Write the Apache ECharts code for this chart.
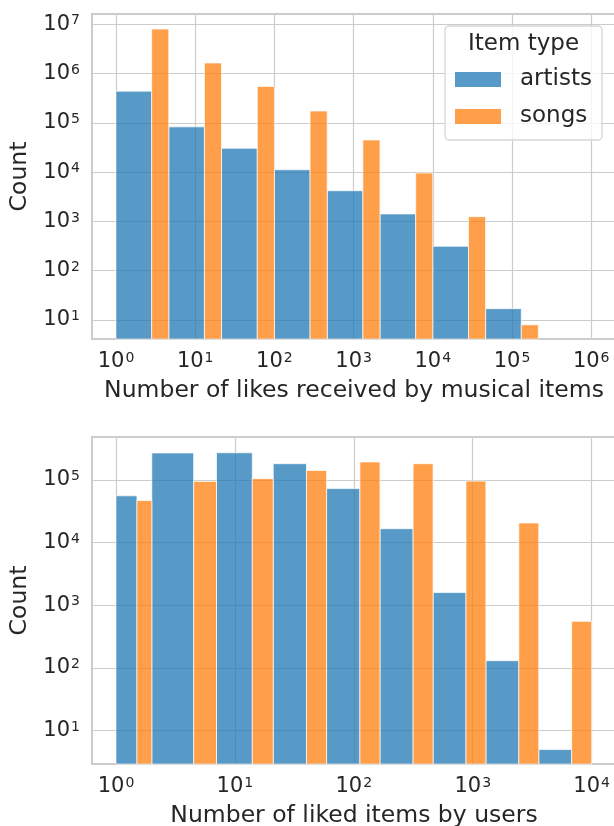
<!DOCTYPE html>
<html><head><meta charset="utf-8">
<script src="https://cdn.jsdelivr.net/npm/echarts@6/dist/echarts.min.js"></script>
<style>html,body{margin:0;padding:0;background:#fff;} #c{width:614px;height:826px;}</style>
</head><body><div id="c"></div>
<script>
// ---- data ----
const likesBinEdges = [1, 4.64, 21.5, 100, 464, 2154, 10000, 46416, 215443];
const likesArtists  = [440000, 83000, 30500, 11200, 4200, 1420, 314, 17];
const likesSongs    = [8000000, 1640000, 550000, 174000, 45000, 9600, 1250, 8];

const usersBinEdges = [1, 2, 7, 21, 59, 166, 464, 1291, 3593, 10000];
const usersArtists  = [56000, 270000, 272000, 182000, 73000, 16700, 1600, 131, 5];
const usersSongs    = [47000, 95000, 105000, 142000, 194000, 182000, 96000, 20600, 556];

const topXTicks    = [1, 10, 100, 1000, 10000, 100000, 1000000];
const topYTicks    = [10, 100, 1000, 10000, 100000, 1000000, 10000000];
const bottomXTicks = [1, 10, 100, 1000, 10000];
const bottomYTicks = [10, 100, 1000, 10000, 100000];

const xNameTop = 'Number of likes received by musical items';
const xNameBottom = 'Number of liked items by users';
const yName = 'Count';
const legendTitle = 'Item type';
const seriesNames = ['artists', 'songs'];

// ---- styling ----
const FONT = 'DejaVu Sans';
const TXT = '#262626';
const BLUE = 'rgba(31,119,180,0.75)';
const ORANGE = 'rgba(255,127,14,0.75)';
const GRIDC = '#cccccc';

function dodge(edges, a, s) {
  const A = [], S = [];
  for (let i = 0; i < a.length; i++) {
    const lo = edges[i], hi = edges[i + 1], mid = (lo + hi) / 2;
    A.push([lo, mid, a[i]]);
    S.push([mid, hi, s[i]]);
  }
  return { A, S };
}
const likesBars = dodge(likesBinEdges, likesArtists, likesSongs);
const usersBars = dodge(usersBinEdges, usersArtists, usersSongs);

function renderBar(params, api) {
  const x0 = api.value(0), x1 = api.value(1), v = api.value(2);
  const p0 = api.coord([x0, v]);
  const p1 = api.coord([x1, v]);
  const cs = params.coordSys;
  const bottom = cs.y + cs.height;
  return {
    type: 'rect',
    shape: { x: p0[0], y: p0[1], width: p1[0] - p0[0], height: bottom - p0[1] },
    style: { fill: api.visual('color'), stroke: 'rgba(255,255,255,0.7)', lineWidth: 1 }
  };
}

const supFmt = v => '{b|10}{s|' + Math.round(Math.log10(v)) + '}';
const rich = {
  b: { fontSize: 21, fontFamily: FONT, color: TXT },
  s: { fontSize: 14, fontFamily: FONT, color: TXT, verticalAlign: 'top', padding: [0, 0, 6, 1] }
};

function xAx(grid, ticks, min, max, name, gap) {
  return {
    type: 'log', logBase: 10, gridIndex: grid, min: min, max: max,
    axisLine: { show: true, onZero: false, lineStyle: { color: GRIDC, width: 2 } },
    axisTick: { show: false, customValues: ticks },
    axisLabel: { customValues: ticks, formatter: supFmt, rich: rich, margin: 12 },
    splitLine: { show: true, lineStyle: { color: GRIDC, width: 1.2 } },
    name: name, nameLocation: 'middle', nameGap: gap,
    nameTextStyle: { fontSize: 23.5, fontFamily: FONT, color: TXT }
  };
}
function yAx(grid, ticks, min, max) {
  return {
    type: 'log', logBase: 10, gridIndex: grid, min: min, max: max,
    axisLine: { show: true, lineStyle: { color: GRIDC, width: 2 } },
    axisTick: { show: false, customValues: ticks },
    axisLabel: { customValues: ticks, formatter: supFmt, rich: rich, margin: 12 },
    splitLine: { show: true, lineStyle: { color: GRIDC, width: 1.2 } },
    name: yName, nameLocation: 'middle', nameGap: 60, nameRotate: 90,
    nameTextStyle: { fontSize: 23.5, fontFamily: FONT, color: TXT }
  };
}

const chart = echarts.init(document.getElementById('c'), null, { renderer: 'canvas' });
chart.setOption({
  animation: false,
  backgroundColor: '#ffffff',
  grid: [
    { left: 92, top: 14, right: -2, height: 325, show: true, borderColor: GRIDC, borderWidth: 2, backgroundColor: 'transparent', outerBoundsMode: 'none', containLabel: false },
    { left: 92, top: 437, right: -2, height: 327, show: true, borderColor: GRIDC, borderWidth: 2, backgroundColor: 'transparent', outerBoundsMode: 'none', containLabel: false }
  ],
  xAxis: [
    xAx(0, topXTicks, Math.pow(10, -0.303), Math.pow(10, 6.313), xNameTop, 40),
    xAx(1, bottomXTicks, Math.pow(10, -0.202), Math.pow(10, 4.205), xNameBottom, 40)
  ],
  yAxis: [
    yAx(0, topYTicks, Math.pow(10, 0.615), Math.pow(10, 7.209)),
    yAx(1, bottomYTicks, Math.pow(10, 0.469), Math.pow(10, 5.686))
  ],
  legend: {
    data: seriesNames, orient: 'vertical', left: 445, top: 26,
    padding: [42, 10, 12, 10], itemWidth: 46, itemHeight: 15, itemGap: 14,
    icon: 'rect',
    backgroundColor: 'rgba(255,255,255,0.8)', borderColor: '#d6d6d6', borderWidth: 1.3, borderRadius: 4,
    textStyle: { fontSize: 23, fontFamily: FONT, color: TXT, padding: [0, 0, 0, 14] }
  },
  graphic: [{
    type: 'text', left: 468, top: 33, z: 100,
    style: { text: legendTitle, font: '23px "DejaVu Sans"', fill: TXT }
  }],
  series: [
    { type: 'custom', name: seriesNames[0], xAxisIndex: 0, yAxisIndex: 0, renderItem: renderBar, itemStyle: { color: BLUE }, encode: { x: [0, 1], y: 2 }, data: likesBars.A },
    { type: 'custom', name: seriesNames[1], xAxisIndex: 0, yAxisIndex: 0, renderItem: renderBar, itemStyle: { color: ORANGE }, encode: { x: [0, 1], y: 2 }, data: likesBars.S },
    { type: 'custom', name: seriesNames[0], xAxisIndex: 1, yAxisIndex: 1, renderItem: renderBar, itemStyle: { color: BLUE }, encode: { x: [0, 1], y: 2 }, data: usersBars.A },
    { type: 'custom', name: seriesNames[1], xAxisIndex: 1, yAxisIndex: 1, renderItem: renderBar, itemStyle: { color: ORANGE }, encode: { x: [0, 1], y: 2 }, data: usersBars.S }
  ]
});
</script>
</body></html>
